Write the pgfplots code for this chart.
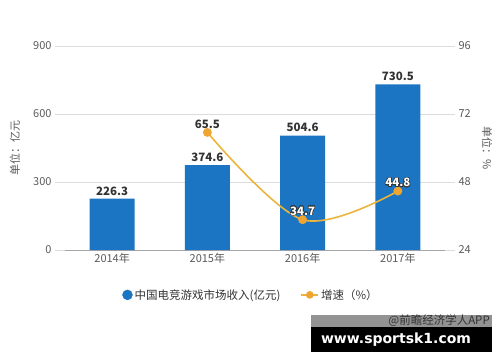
\documentclass[border=0pt]{standalone}
\usepackage{pgfplots}
\pgfplotsset{compat=1.18}
\usepackage{fontspec}
\setmainfont{Noto Sans CJK SC}
\newfontfamily\wmfont{DejaVu Sans}
\usepackage[copies]{contour}
\contourlength{0.6pt}
\definecolor{barblue}{HTML}{1B75C3}
\definecolor{lineorange}{HTML}{EBB43C}
\definecolor{markorange}{HTML}{F0A532}
\definecolor{tickgray}{HTML}{5A5A5A}
\definecolor{gridgray}{HTML}{DCDCDC}
\definecolor{labeldark}{HTML}{333333}
\begin{document}
\begin{tikzpicture}
\useasboundingbox (0pt,0pt) rectangle (500pt,362pt);
\begin{axis}[
  at={(55pt,112pt)}, anchor=south west, scale only axis,
  width=400pt, height=204pt,
  xmin=-0.6, xmax=3.6, ymin=0, ymax=900,
  ytick={0,300,600,900},
  ymajorgrids, grid style={gridgray, line width=0.7pt},
  axis x line*=bottom, axis y line*=left,
  y axis line style={draw=none},
  x axis line style={draw=gray!70, line width=0.7pt, shorten <=10pt, shorten >=10pt},
  xtick={0,1,2,3}, xticklabels={2014年,2015年,2016年,2017年},
  major tick length=4pt,
  xtick style={draw=gray!70},
  ytick style={draw=none},
  tick label style={font=\fontsize{11}{13}\selectfont, color=tickgray},
  /pgf/number format/assume math mode=true,
  ylabel={单位：亿元},
  ylabel style={at={(axis description cs:-0.1,0.5)}, anchor=center, rotate=0, font=\fontsize{11}{13}\selectfont, color=tickgray},
  clip=false,
]
\addplot[ybar, bar width=45pt, fill=barblue, draw=none,
  nodes near coords,
  nodes near coords style={font=\fontsize{11.5}{13}\selectfont\bfseries, color=labeldark, /pgf/number format/.cd, fixed, fixed zerofill, precision=1, assume math mode=true},
] coordinates {(0,226.3) (1,374.6) (2,504.6) (3,730.5)};
\end{axis}
\begin{axis}[
  at={(55pt,112pt)}, anchor=south west, scale only axis,
  width=400pt, height=204pt,
  xmin=-0.6, xmax=3.6, ymin=24, ymax=96,
  ytick={24,48,72,96},
  axis x line=none, axis y line*=right,
  y axis line style={draw=none}, ytick style={draw=none},
  tick label style={font=\fontsize{11}{13}\selectfont, color=tickgray},
  /pgf/number format/assume math mode=true,
  ylabel={单位：\%},
  ylabel style={at={(axis description cs:1.08,0.5)}, anchor=center, rotate=180, font=\fontsize{11}{13}\selectfont, color=tickgray},
  legend style={at={(axis description cs:0.49,-0.22)}, anchor=center, draw=none, fill=none, legend columns=2, font=\fontsize{11.5}{13}\selectfont, text=labeldark, /tikz/every even column/.append style={column sep=18pt}},
  clip=false,
]
\addlegendimage{legend image code/.code={\fill[barblue] (0.3cm,0) circle (5pt);}}
\addlegendentry{中国电竞游戏市场收入(亿元)}
\addplot[lineorange, line width=1.6pt, smooth, tension=0.55, mark=*, mark size=3.6pt, mark options={fill=markorange, draw=markorange},
  legend image code/.code={\draw[lineorange, line width=1.6pt] (0cm,0)--(0.6cm,0); \fill[markorange] (0.3cm,0) circle (3pt);}]
  coordinates {(1,65.5) (2,34.7) (3,44.8)};
\addlegendentry{增速（\%）}
\addplot[draw=none, mark=none, forget plot, nodes near coords,
  nodes near coords style={font=\fontsize{11.5}{13}\selectfont\bfseries, color=labeldark, /pgf/number format/.cd, fixed, fixed zerofill, precision=1, assume math mode=true}]
  coordinates {(1,65.5)};
\addplot[draw=none, mark=none, forget plot, nodes near coords={\contour{labeldark}{\textcolor{white}{\pgfmathprintnumber[fixed,fixed zerofill,precision=1,assume math mode=true]{\pgfplotspointmeta}}}},
  nodes near coords style={font=\fontsize{11.5}{13}\selectfont\bfseries}]
  coordinates {(2,34.7) (3,44.8)};
\end{axis}
\fill[gray!85] (311pt,35pt) rectangle (492pt,47pt);
\node[anchor=east, font=\fontsize{11.5}{12}\selectfont, text=black!80, inner sep=0pt] at (490pt,41pt) {@前瞻经济学人APP};
\fill[black] (311pt,10pt) rectangle (492pt,35pt);
\node[anchor=center, font=\wmfont\bfseries\fontsize{14}{16}\selectfont, text=white, inner sep=0pt] at (396pt,22.5pt) {www.sportsk1.com};
\end{tikzpicture}
\end{document}
